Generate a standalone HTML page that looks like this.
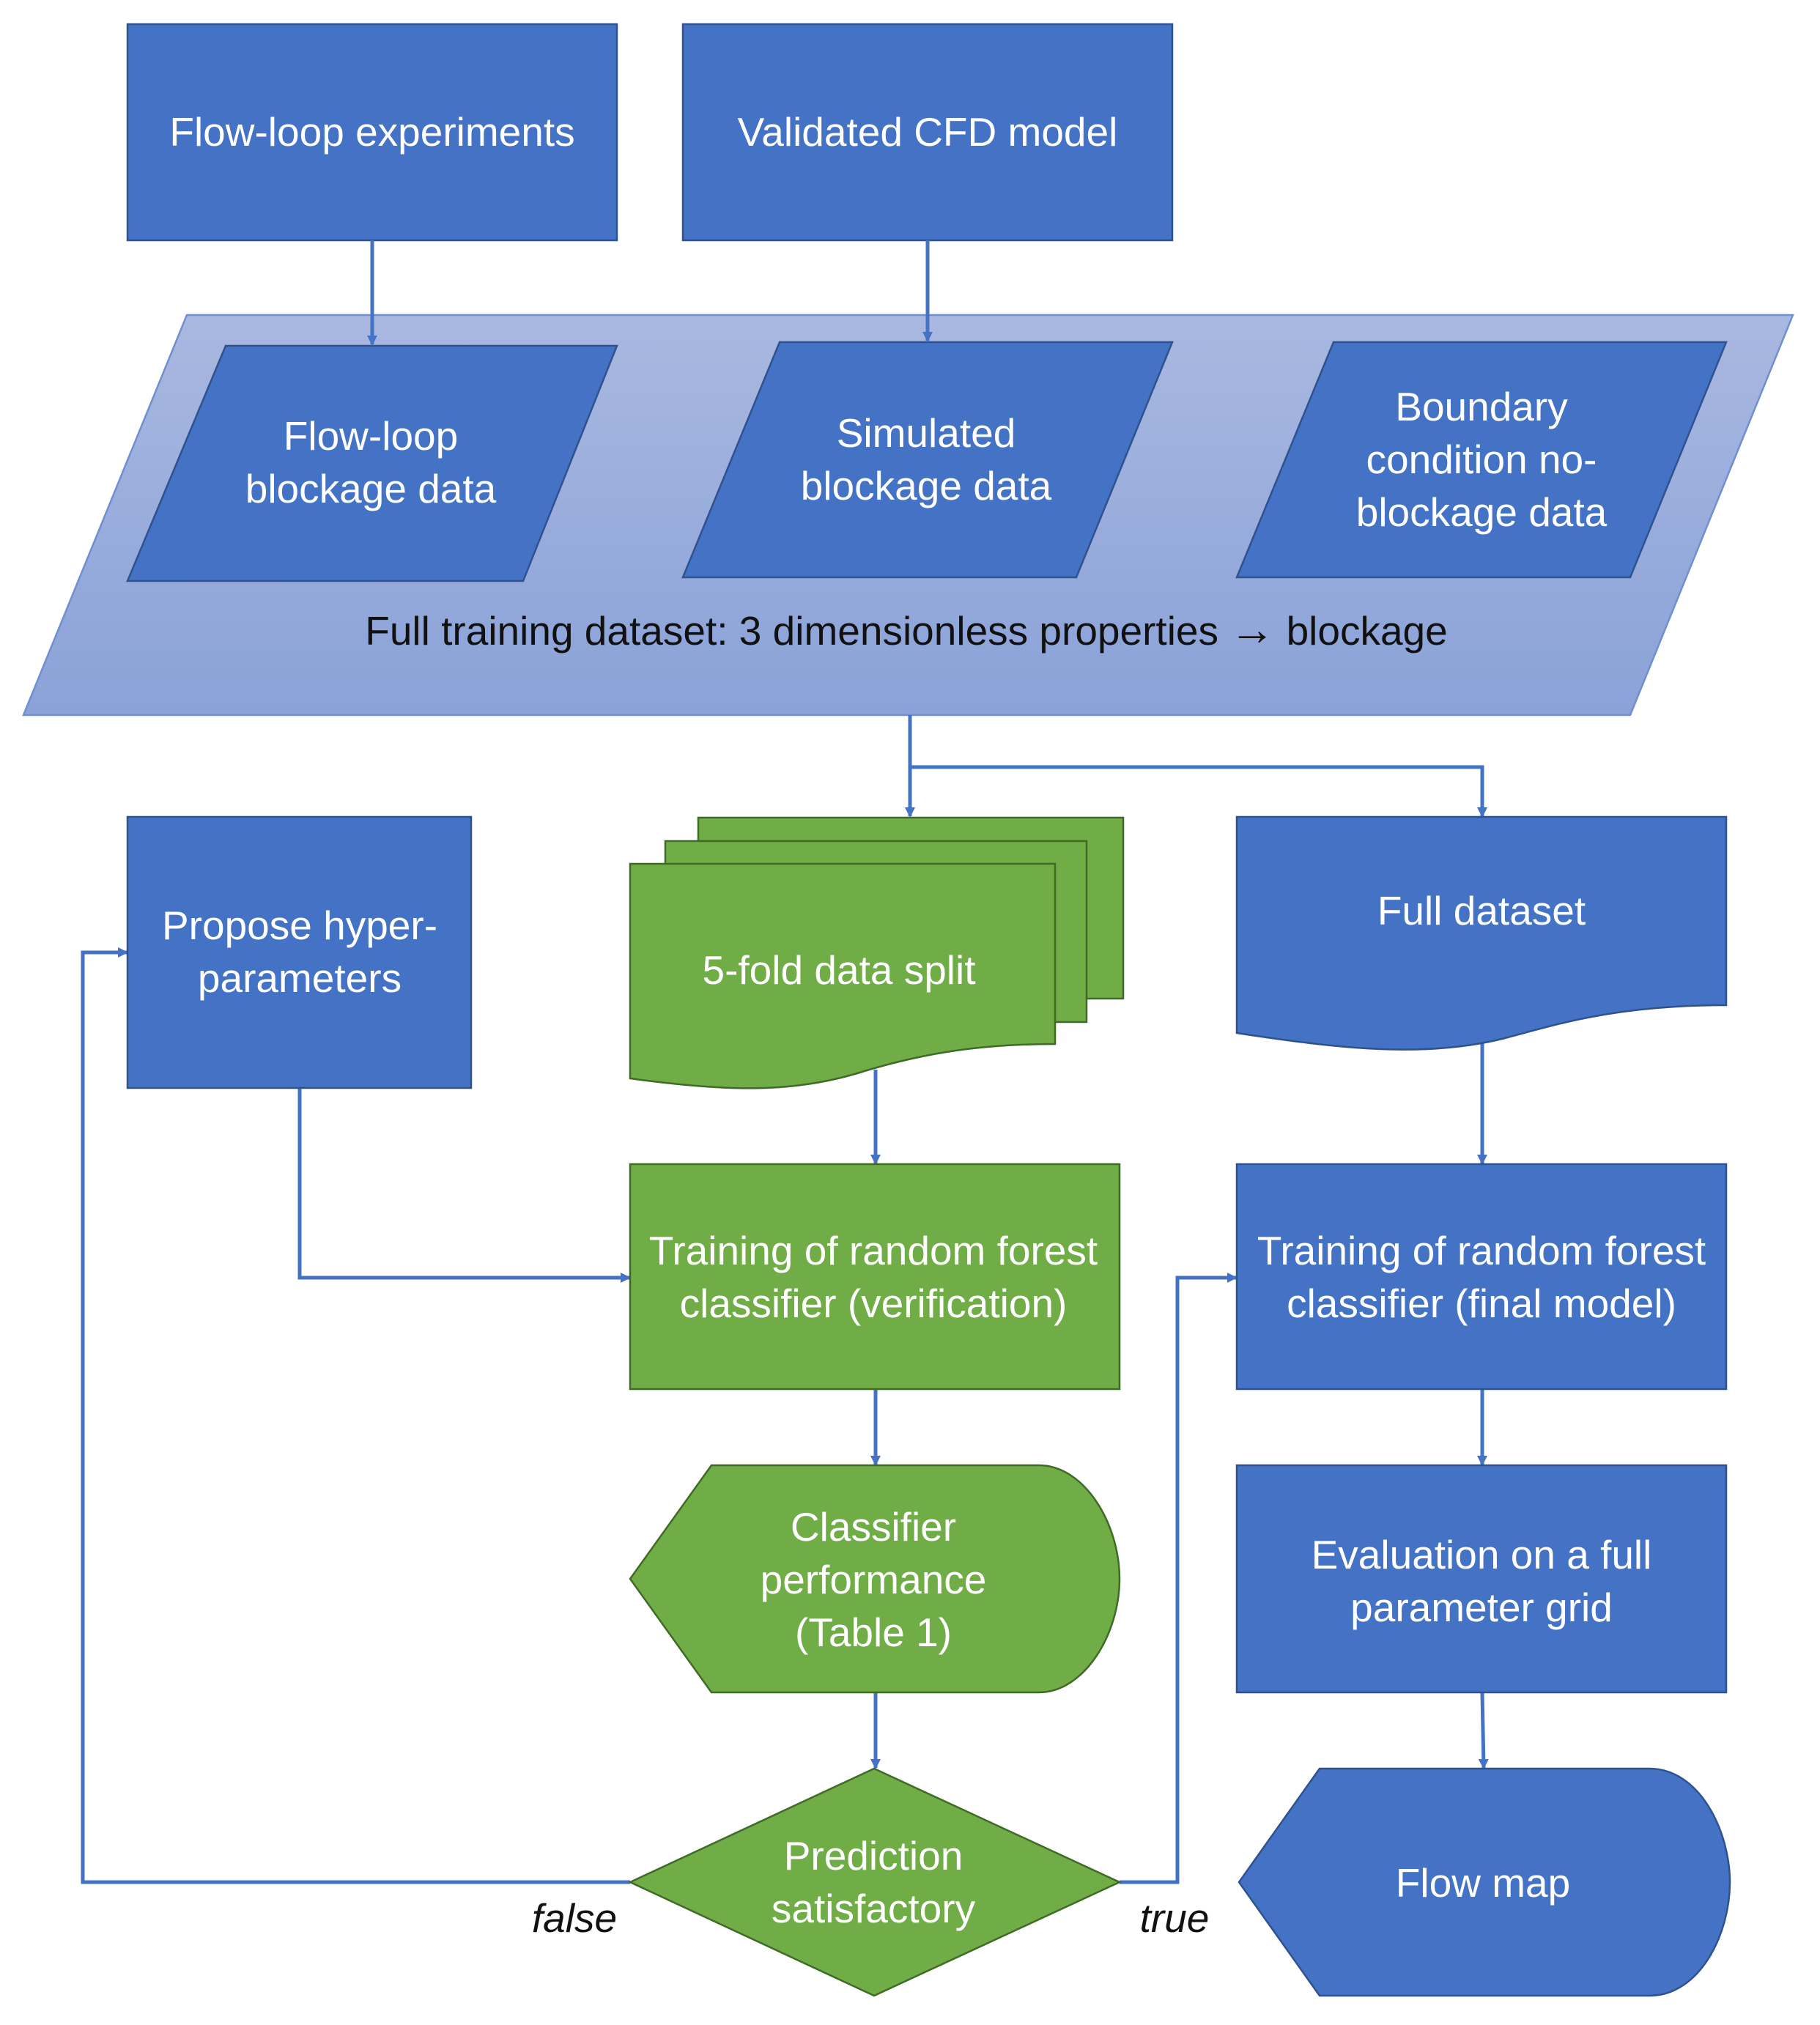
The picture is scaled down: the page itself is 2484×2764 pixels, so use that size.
<!DOCTYPE html>
<html><head><meta charset="utf-8"><style>
html,body{margin:0;padding:0;background:#fff}
svg{display:block}
text{font-family:"Liberation Sans",sans-serif;font-size:55px;fill:#fff;text-anchor:middle}
</style></head><body>
<svg width="2484" height="2764" viewBox="0 0 2484 2764" xmlns="http://www.w3.org/2000/svg">
<defs>
<linearGradient id="g" x1="0" y1="0" x2="0" y2="1"><stop offset="0" stop-color="#A9B8E0"/><stop offset="1" stop-color="#8AA2D8"/></linearGradient>
<marker id="a" markerWidth="14" markerHeight="14" refX="12" refY="7" orient="auto" markerUnits="userSpaceOnUse" viewBox="0 0 14 14"><path d="M0,0 L14,7 L0,14 z" fill="#4472C4"/></marker>
</defs>
<g stroke="#2F528F" stroke-width="2.5" fill="#4472C4">
<rect x="174" y="33" width="668" height="295"/>
<rect x="932" y="33" width="668" height="295"/>
</g>
<polygon points="255,430 2447,430 2225,976 32,976" fill="url(#g)" stroke="#6F8FD0" stroke-width="2.5"/>
<g stroke="#2F528F" stroke-width="2.5" fill="#4472C4">
<polygon points="308,472 842,472 714,793 174,793"/>
<polygon points="1064,467 1600,467 1469,788 932,788"/>
<polygon points="1820,467 2356,467 2225,788 1688,788"/>
</g>
<g stroke="#4472C4" stroke-width="5" fill="none">
<line x1="508" y1="328" x2="508" y2="470" marker-end="url(#a)"/>
<line x1="1266" y1="328" x2="1266" y2="465" marker-end="url(#a)"/>
<polyline points="1242,976 1242,1047 2023,1047 2023,1100" />
<line x1="1242" y1="1047" x2="1242" y2="1114" marker-end="url(#a)"/>
<line x1="2023" y1="1095" x2="2023" y2="1114" marker-end="url(#a)"/>
<polyline points="409,1485 409,1744 859,1744" marker-end="url(#a)"/>
<line x1="1195" y1="1460" x2="1195" y2="1588" marker-end="url(#a)"/>
<line x1="2023" y1="1410" x2="2023" y2="1588" marker-end="url(#a)"/>
<line x1="1195" y1="1896" x2="1195" y2="1999" marker-end="url(#a)"/>
<line x1="2023" y1="1896" x2="2023" y2="1999" marker-end="url(#a)"/>
<line x1="1195" y1="2310" x2="1195" y2="2413" marker-end="url(#a)"/>
<line x1="2023" y1="2310" x2="2025" y2="2413" marker-end="url(#a)"/>
<polyline points="860,2569 113,2569 113,1300 173,1300" marker-end="url(#a)"/>
<polyline points="1528,2569 1607,2569 1607,1744 1687,1744" marker-end="url(#a)"/>
</g>
<g stroke="#2F528F" stroke-width="2.5" fill="#4472C4">
<rect x="174" y="1115" width="469" height="370"/>
<path d="M1688,1115 H2356 V1372 C2200,1372 2120,1400 2050,1418 C1940,1445 1820,1430 1688,1410 Z"/>
<rect x="1688" y="1589" width="668" height="307"/>
<rect x="1688" y="2000" width="668" height="310"/>
<path d="M1801,2414 H2251 C2320,2414 2361,2500 2361,2569 C2361,2640 2320,2724 2251,2724 H1801 L1691,2569 Z"/>
</g>
<g stroke="#3F6B27" stroke-width="2.5" fill="#70AD47">
<rect x="953" y="1116" width="580" height="247"/>
<rect x="908" y="1148" width="575" height="247"/>
<path d="M860,1179 H1440 V1425 C1330,1425 1250,1440 1170,1465 C1080,1492 990,1490 860,1472 Z"/>
<rect x="860" y="1589" width="668" height="307"/>
<path d="M971,2000 H1418 C1480,2000 1528,2080 1528,2155 C1528,2230 1480,2310 1418,2310 H971 L860,2155 Z"/>
<polygon points="1193,2414 1528,2569 1193,2724 860,2569"/>
</g>
<text x="508" y="199">Flow-loop experiments</text>
<text x="1266" y="199">Validated CFD model</text>
<text x="506" y="614">Flow-loop</text>
<text x="506" y="686">blockage data</text>
<text x="1264" y="610">Simulated</text>
<text x="1264" y="682">blockage data</text>
<text x="2022" y="574">Boundary</text>
<text x="2022" y="646">condition no-</text>
<text x="2022" y="718">blockage data</text>
<text x="1237" y="880" style="fill:#111">Full training dataset: 3 dimensionless properties <tspan font-size="62">→</tspan> blockage</text>
<text x="409" y="1282">Propose hyper-</text>
<text x="409" y="1354">parameters</text>
<text x="1145" y="1343">5-fold data split</text>
<text x="2022" y="1262">Full dataset</text>
<text x="1192" y="1726">Training of random forest</text>
<text x="1192" y="1798">classifier (verification)</text>
<text x="2022" y="1726">Training of random forest</text>
<text x="2022" y="1798">classifier (final model)</text>
<text x="1192" y="2103">Classifier</text>
<text x="1192" y="2175">performance</text>
<text x="1192" y="2247">(Table 1)</text>
<text x="2022" y="2141">Evaluation on a full</text>
<text x="2022" y="2213">parameter grid</text>
<text x="1192" y="2552">Prediction</text>
<text x="1192" y="2624">satisfactory</text>
<text x="2024" y="2589">Flow map</text>
<text x="784" y="2637" style="fill:#111;font-style:italic">false</text>
<text x="1603" y="2637" style="fill:#111;font-style:italic">true</text>
</svg>
</body></html>
